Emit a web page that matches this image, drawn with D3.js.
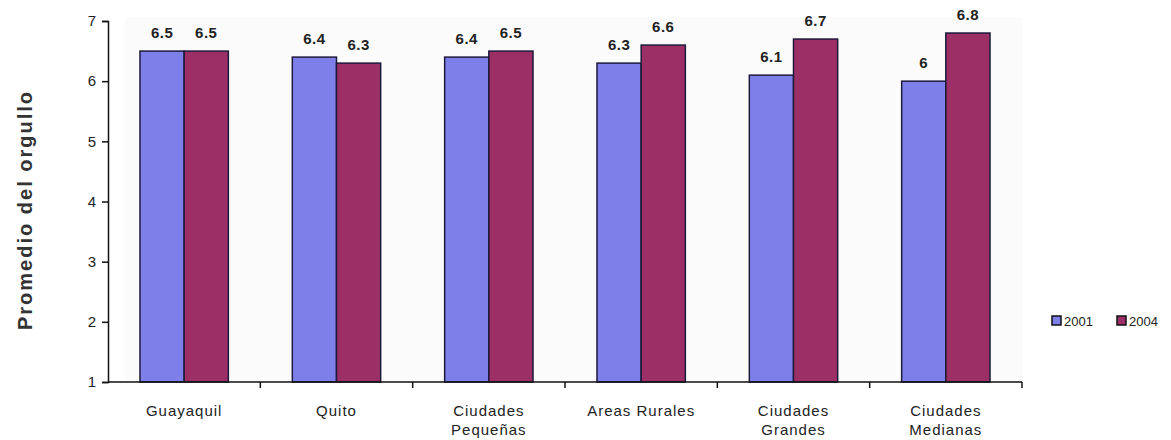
<!DOCTYPE html>
<html>
<head>
<meta charset="utf-8">
<script src="https://cdn.jsdelivr.net/npm/d3@7"></script>
<style>
  body { margin: 0; background: #fff; }
  text { font-family: "Liberation Sans", Arial, sans-serif; }
</style>
</head>
<body>
<div id="chart"></div>
<script>
// data
const categories = [["Guayaquil"], ["Quito"], ["Ciudades", "Pequeñas"], ["Areas Rurales"], ["Ciudades", "Grandes"], ["Ciudades", "Medianas"]];
const series = ["2001", "2004"];
const values2001 = [6.5, 6.4, 6.4, 6.3, 6.1, 6];
const values2004 = [6.5, 6.3, 6.5, 6.6, 6.7, 6.8];
const yTicks = [1, 2, 3, 4, 5, 6, 7];

const colors = ["#7f7fea", "#9b2f66"];

const width = 1171, height = 440;
const margin = { top: 21, right: 149, bottom: 58, left: 108 };
const innerW = width - margin.left - margin.right;
const innerH = height - margin.top - margin.bottom;

const svg = d3.select("#chart").append("svg")
    .attr("width", width)
    .attr("height", height);

const g = svg.append("g")
    .attr("transform", "translate(" + margin.left + "," + margin.top + ")");

const keys = categories.map(c => c.join(" "));

const x = d3.scaleBand()
    .domain(keys)
    .range([0, innerW])
    .paddingInner(0)
    .paddingOuter(0);

const x1 = d3.scaleBand()
    .domain(series)
    .range([x.bandwidth() * 0.21, x.bandwidth() * 0.79]);

const y = d3.scaleLinear()
    .domain([1, 7])
    .range([innerH, 0]);

// faint plot background
g.append("rect")
    .attr("x", 17).attr("y", -4)
    .attr("width", innerW - 17).attr("height", innerH + 4)
    .attr("fill", "#fbfbfb");

const data = keys.map((k, i) => ({ key: k, vals: [values2001[i], values2004[i]] }));

// bars
const grp = g.append("g").selectAll("g")
    .data(data)
    .join("g")
    .attr("transform", d => "translate(" + x(d.key) + ",0)");

grp.selectAll("rect")
    .data(d => d.vals.map((v, j) => ({ s: series[j], v, j })))
    .join("rect")
    .attr("x", d => x1(d.s))
    .attr("y", d => y(d.v))
    .attr("width", x1.bandwidth())
    .attr("height", d => y(1) - y(d.v))
    .attr("fill", d => colors[d.j])
    .attr("stroke", "#1c1a3a")
    .attr("stroke-width", 1.5);

// value labels
grp.selectAll("text")
    .data(d => d.vals.map((v, j) => ({ s: series[j], v, j })))
    .join("text")
    .attr("x", d => x1(d.s) + x1.bandwidth() / 2)
    .attr("y", d => y(d.v) - 13)
    .attr("text-anchor", "middle")
    .attr("font-size", 15)
    .attr("font-weight", "bold")
    .attr("letter-spacing", 0.5)
    .attr("fill", "#222")
    .text(d => d.v);

// y axis
const yAxis = g.append("g")
    .call(d3.axisLeft(y).tickValues(yTicks).tickFormat(d3.format("d")).tickSize(6).tickPadding(6));
yAxis.select(".domain").attr("stroke", "#111").attr("stroke-width", 1.5);
yAxis.selectAll(".tick line").attr("stroke", "#111").attr("stroke-width", 1.5);
yAxis.selectAll(".tick text").attr("font-size", 15).attr("fill", "#222")
    .attr("font-family", "Liberation Sans, Arial, sans-serif");

// x axis
const xBound = d3.scaleLinear().domain([0, keys.length]).range([0, innerW]);
const xAxis = g.append("g")
    .attr("transform", "translate(0," + innerH + ")");
xAxis.append("line")
    .attr("x1", 0).attr("x2", innerW)
    .attr("stroke", "#111").attr("stroke-width", 1.5);
xAxis.selectAll(".tk")
    .data(d3.range(1, keys.length + 1))
    .join("line")
    .attr("x1", d => xBound(d)).attr("x2", d => xBound(d))
    .attr("y1", 0).attr("y2", 6)
    .attr("stroke", "#111").attr("stroke-width", 1.5);

const lbl = xAxis.selectAll(".lbl")
    .data(categories)
    .join("text")
    .attr("text-anchor", "middle")
    .attr("font-size", 15)
    .attr("letter-spacing", 1)
    .attr("fill", "#222")
    .attr("transform", (d, i) => "translate(" + (x(keys[i]) + x.bandwidth() / 2) + ",34)");
lbl.selectAll("tspan")
    .data(d => d)
    .join("tspan")
    .attr("x", 0)
    .attr("dy", (d, i) => i === 0 ? 0 : 19)
    .text(d => d);

// y title
svg.append("text")
    .attr("transform", "translate(32," + 210 + ") rotate(-90)")
    .attr("text-anchor", "middle")
    .attr("font-size", 20)
    .attr("font-weight", "bold")
    .attr("letter-spacing", 2)
    .attr("fill", "#333")
    .text("Promedio del orgullo");

// legend
const legend = svg.append("g").attr("transform", "translate(1052,321)");
const li = legend.selectAll("g")
    .data(series)
    .join("g")
    .attr("transform", (d, i) => "translate(" + (i * 65) + ",0)");
li.append("rect")
    .attr("x", 0).attr("y", -5)
    .attr("width", 9).attr("height", 9)
    .attr("fill", (d, i) => colors[i])
    .attr("stroke", "#111").attr("stroke-width", 1.5);
li.append("text")
    .attr("x", 12).attr("y", 4.5)
    .attr("font-size", 13)
    .attr("fill", "#222")
    .text(d => d);
</script>
</body>
</html>
